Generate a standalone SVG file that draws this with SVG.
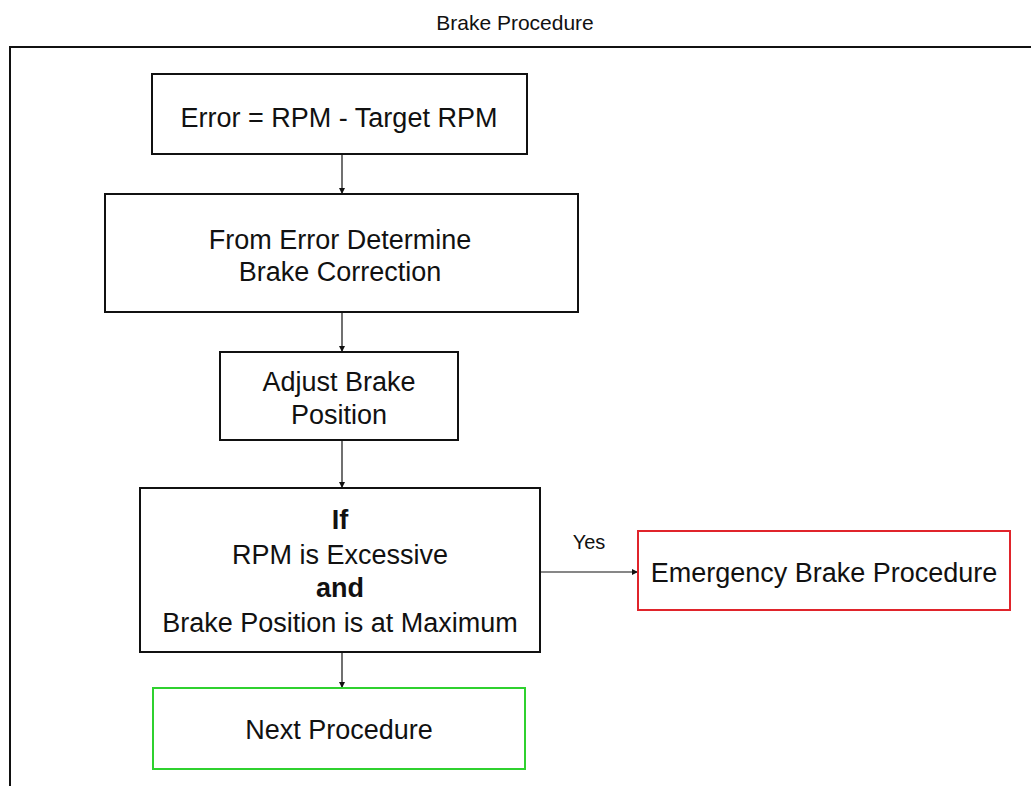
<svg xmlns="http://www.w3.org/2000/svg" width="1031" height="786" viewBox="0 0 1031 786">
  <style>
    text { font-family: "Liberation Sans", Arial, sans-serif; fill: #111; text-anchor: middle; }
    .lbl { font-size: 27px; }
    .bold { font-weight: bold; }
    .box { fill: #fff; stroke: #111; stroke-width: 2; }
    .red { stroke: #e0242b; }
    .green { stroke: #2fd12f; }
    .conn { stroke: #111; stroke-width: 1.2; fill: none; marker-end: url(#arr); }
  </style>
  <defs>
    <marker id="arr" viewBox="0 0 10 10" refX="10" refY="5" markerWidth="6" markerHeight="6" markerUnits="userSpaceOnUse" orient="auto">
      <path d="M0,0 L10,5 L0,10 z" fill="#111"/>
    </marker>
  </defs>
  <rect width="1031" height="786" fill="#fff"/>

  <!-- title and frame -->
  <text x="515" y="30" font-size="21">Brake Procedure</text>
  <path d="M1040,47 H10 V800" fill="none" stroke="#111" stroke-width="2"/>

  <g id="connectors">
    <line class="conn" x1="342" y1="154" x2="342" y2="194"/>
    <line class="conn" x1="342" y1="312" x2="342" y2="352"/>
    <line class="conn" x1="342" y1="440" x2="342" y2="488"/>
    <line class="conn" x1="540" y1="572" x2="638" y2="572"/>
    <line class="conn" x1="342" y1="652" x2="342" y2="688"/>
    <text x="589" y="549" font-size="20">Yes</text>
  </g>

  <g id="error">
    <rect class="box" x="152" y="74" width="375" height="80"/>
    <text class="lbl" x="339" y="127">Error = RPM - Target RPM</text>
  </g>

  <g id="determine">
    <rect class="box" x="105" y="194" width="473" height="118"/>
    <text class="lbl" x="340" y="249">From Error Determine</text>
    <text class="lbl" x="340" y="281">Brake Correction</text>
  </g>

  <g id="adjust">
    <rect class="box" x="220" y="352" width="238" height="88"/>
    <text class="lbl" x="339" y="391">Adjust Brake</text>
    <text class="lbl" x="339" y="424">Position</text>
  </g>

  <g id="condition">
    <rect class="box" x="140" y="488" width="400" height="164"/>
    <text class="lbl bold" x="340" y="529">If</text>
    <text class="lbl" x="340" y="564">RPM is Excessive</text>
    <text class="lbl bold" x="340" y="597">and</text>
    <text class="lbl" x="340" y="632">Brake Position is at Maximum</text>
  </g>

  <g id="emergency">
    <rect class="box red" x="638" y="531" width="372" height="79"/>
    <text class="lbl" x="824" y="582">Emergency Brake Procedure</text>
  </g>

  <g id="next">
    <rect class="box green" x="153" y="688" width="372" height="81"/>
    <text class="lbl" x="339" y="739">Next Procedure</text>
  </g>
</svg>
